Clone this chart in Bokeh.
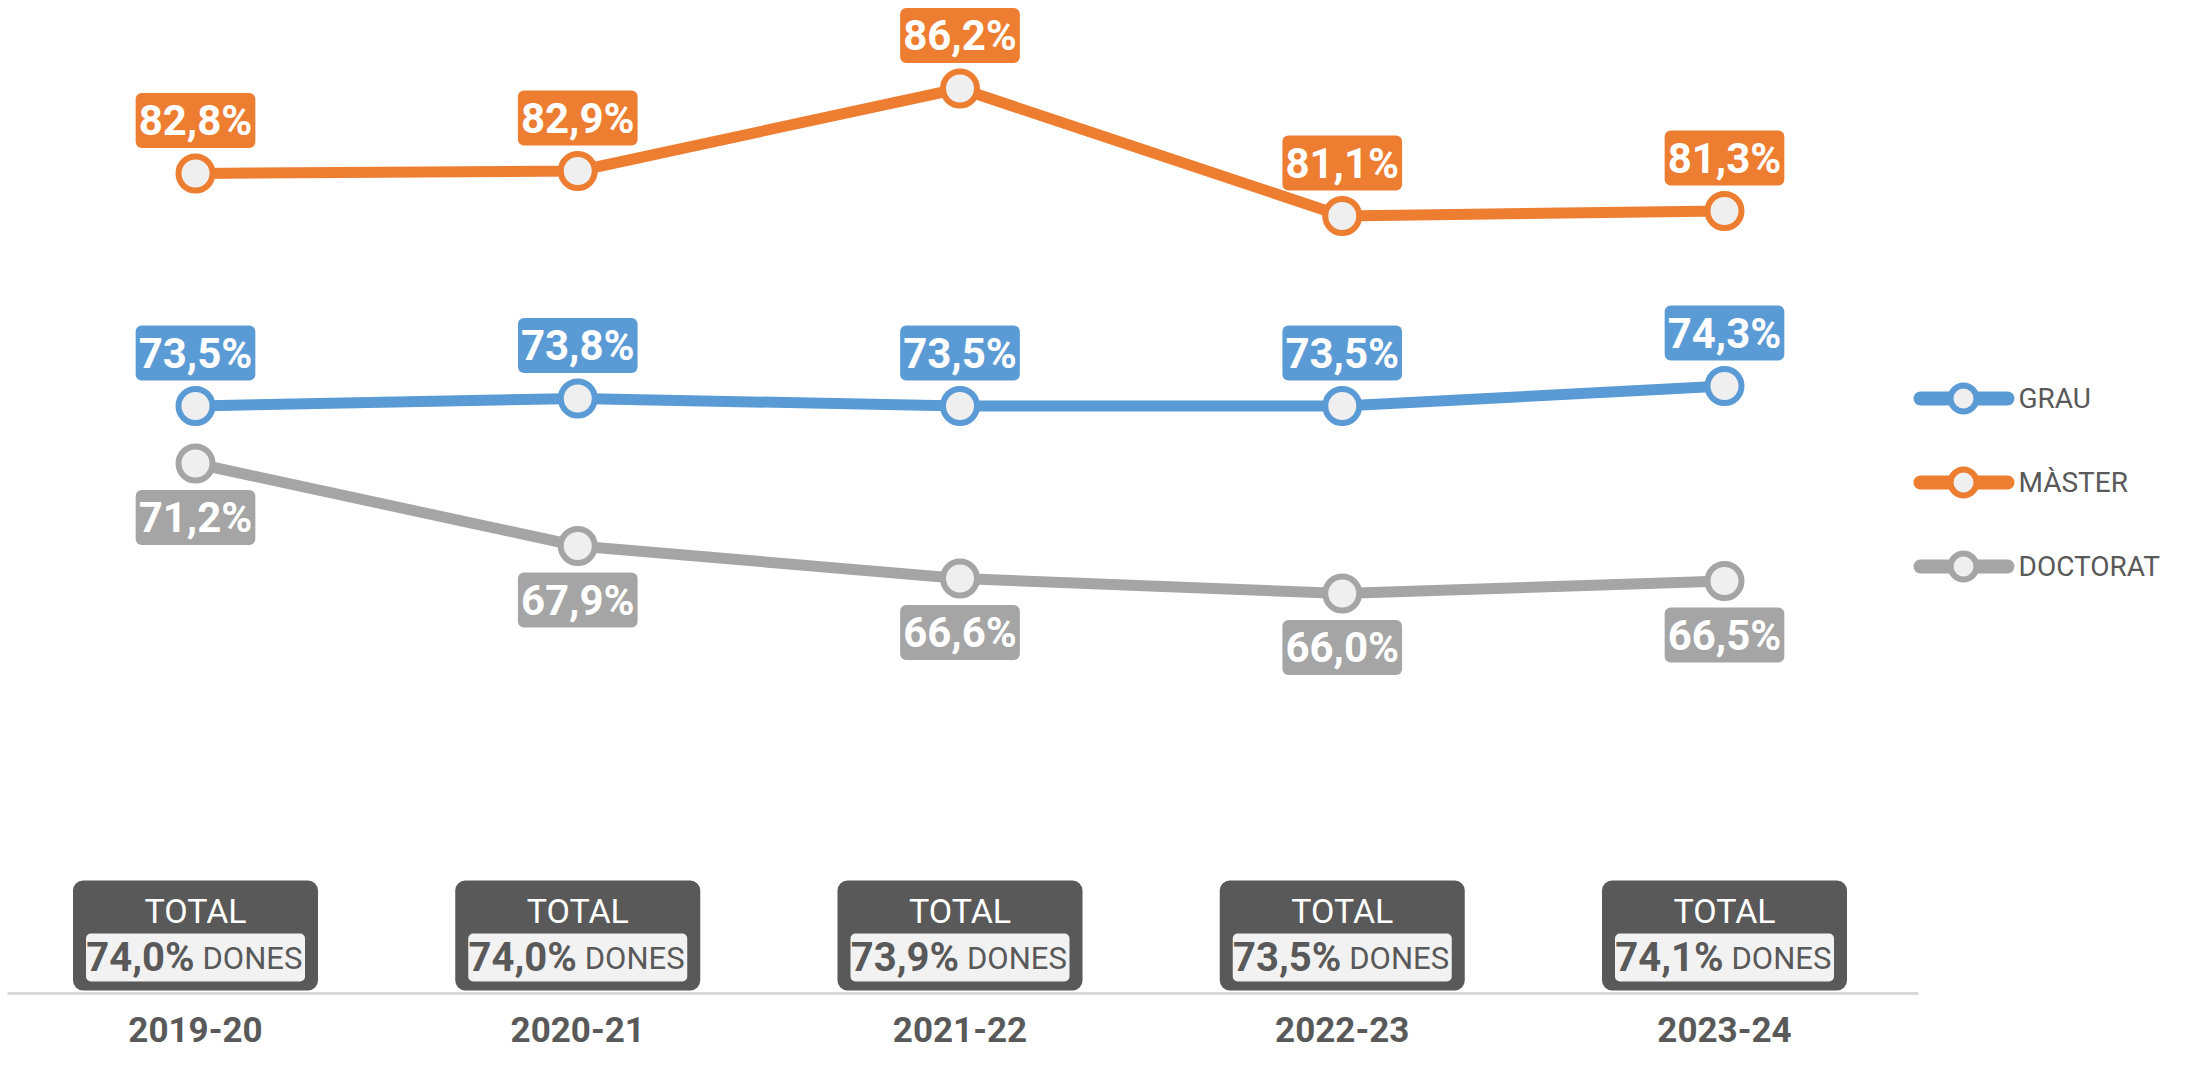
from bokeh.plotting import figure
from bokeh.models import Range1d
from bokeh.core.properties import value
from bokeh.embed import file_html
from bokeh.resources import INLINE

# ---- data ----
years = ["2019-20", "2020-21", "2021-22", "2022-23", "2023-24"]
series_names = ["GRAU", "MÀSTER", "DOCTORAT"]
grau = [73.5, 73.8, 73.5, 73.5, 74.3]
master = [82.8, 82.9, 86.2, 81.1, 81.3]
doctorat = [71.2, 67.9, 66.6, 66.0, 66.5]
total_dones = [74.0, 74.0, 73.9, 73.5, 74.1]
colors = ["#5B9BD5", "#ED7D31", "#A5A5A5"]

TXT = "#595959"
FONT = value("Roboto")

# ---- geometry (picture pixels -> data) ----
W, H = 2171, 1051
X0, DXP = 195.0, 382.25
PPU = 25.0
y_end = 86.2 + 88 / PPU
y_start = y_end - H / PPU
x_start = -X0 / DXP
x_end = x_start + W / DXP


def px_x(pic_x):
    return (pic_x - X0) / DXP


def px_y(pic_y):
    return y_end - pic_y / PPU


def dxp(pixels):
    return pixels / DXP


def fmt(v):
    return f"{v:.1f}".replace(".", ",") + "%"


p = figure(width=W, height=H, output_backend="svg", toolbar_location=None,
           x_range=Range1d(x_start, x_end), y_range=Range1d(y_start, y_end),
           min_border=0, outline_line_color=None)
p.axis.visible = False
p.grid.visible = False
p.background_fill_color = "white"

xs = list(range(len(years)))

# baseline axis line
p.segment(x0=[px_x(7)], x1=[px_x(1918)], y0=[px_y(993)], y1=[px_y(993)],
          line_color="#D9D9D9", line_width=3)

data = [grau, master, doctorat]
offsets = [-53, -53, 54]
for vals, col in zip(data, colors):
    p.line(xs, vals, line_color=col, line_width=11, line_join="round")
for vals, col in zip(data, colors):
    p.scatter(xs, vals, size=34, fill_color="#EFEFEF", line_color=col, line_width=6)
for vals, col, off in zip(data, colors, offsets):
    p.text(xs, vals, text=[fmt(v) for v in vals], y_offset=off,
           text_font=FONT, text_font_style="bold", text_font_size="42px",
           text_color="white", text_align="center", text_baseline="middle",
           background_fill_color=col, border_radius=6, padding=3)

# TOTAL boxes
p.quad(left=[x - dxp(122.5) for x in xs], right=[x + dxp(122.5) for x in xs],
       top=px_y(880), bottom=px_y(990), fill_color="#595959", line_color=None,
       border_radius=10)
p.quad(left=[x - dxp(109.5) for x in xs], right=[x + dxp(109.5) for x in xs],
       top=px_y(933), bottom=px_y(981), fill_color="#F2F2F2", line_color=None,
       border_radius=5)
p.text(xs, [px_y(910)] * len(xs), text=["TOTAL"] * len(xs), text_font=FONT,
       text_font_size="34px", text_color="white", text_align="center",
       text_baseline="middle")
p.text([x + dxp(-1) for x in xs], [px_y(957)] * len(xs),
       text=[fmt(v) for v in total_dones], text_font=FONT, text_font_style="bold",
       text_font_size="40px", text_color=TXT, text_align="right",
       text_baseline="middle")
p.text([x + dxp(7) for x in xs], [px_y(958)] * len(xs), text=["DONES"] * len(xs),
       text_font=FONT, text_font_size="31px", text_color=TXT, text_align="left",
       text_baseline="middle")

# year labels
p.text(xs, [px_y(1029)] * len(xs), text=years, text_font=FONT,
       text_font_style="bold", text_font_size="35px", text_color=TXT,
       text_align="center", text_baseline="middle")

# legend (manual)
leg_y = [398, 482, 566]
for name, col, ly in zip(series_names, colors, leg_y):
    yy = px_y(ly)
    p.segment(x0=[px_x(1920)], x1=[px_x(2007)], y0=[yy], y1=[yy],
              line_color=col, line_width=14, line_cap="round")
    p.scatter([px_x(1963)], [yy], size=26, fill_color="#EFEFEF",
              line_color=col, line_width=6)
    p.text([px_x(2018)], [yy], text=[name], text_font=FONT, text_font_size="28px",
           text_color=TXT, text_align="left", text_baseline="middle")

open("out.html", "w").write(file_html(p, INLINE))
